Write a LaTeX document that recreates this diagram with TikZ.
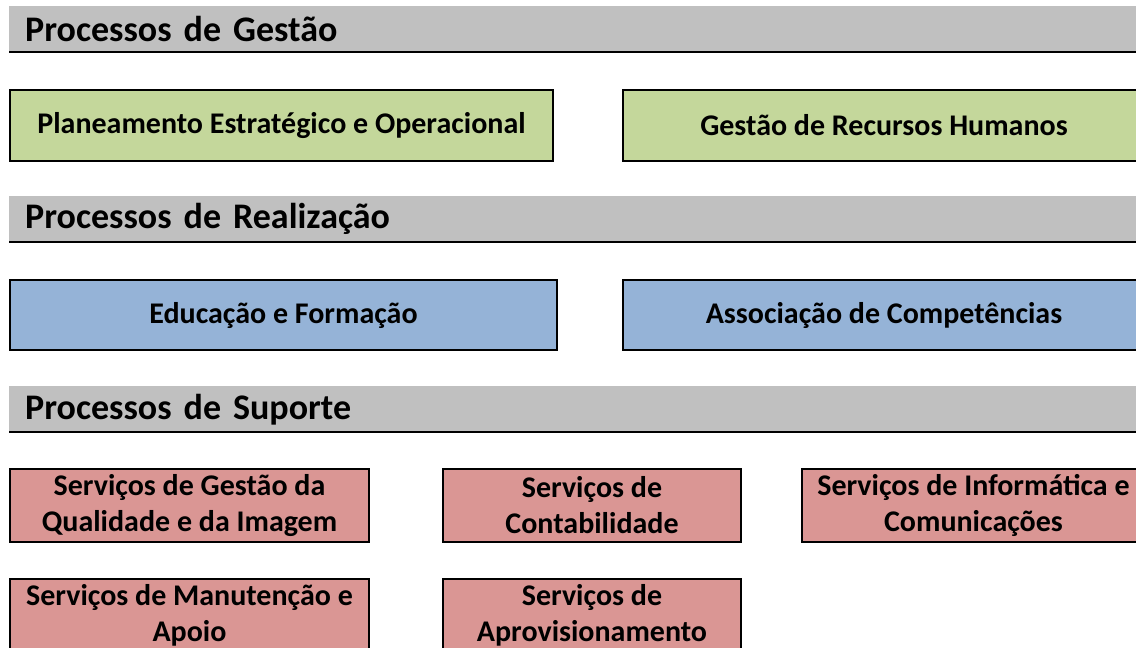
\documentclass[tikz,border=0pt]{standalone}
\usepackage{fontspec}
\setmainfont{Carlito}
\usetikzlibrary{positioning}
\definecolor{headgray}{HTML}{C0C0C0}
\definecolor{gestgreen}{HTML}{C4D79B}
\definecolor{realblue}{HTML}{95B3D7}
\definecolor{suppink}{HTML}{DA9694}
\tikzset{
head bar/.style={
fill=headgray,anchor=north west,minimum height=46pt,
text width=1110pt,inner xsep=16pt,inner ysep=0pt,align=left,
font=\bfseries\fontsize{36}{40}\selectfont
},
proc box/.style={
draw=black,line width=2pt,fill=#1,anchor=north west,inner sep=0pt,
align=center,font=\bfseries\fontsize{30}{36}\selectfont
},
}

\begin{document}
\begin{tikzpicture}[x=1pt,y=-1pt]
\useasboundingbox (0,0) rectangle (1136,648);
\clip (0,0) rectangle (1136,648);
\foreach \n/\y/\t in {hg/6/Processos de Gestão,hr/196/Processos de Realização,hs/386/Processos de Suporte} {
\node[head bar] (\n) at (9,\y) {\t};
\draw[line width=2pt] (\n.south west) -- (\n.south east);
}
\foreach \n/\x/\w/\t in {pe/9/543/Planeamento Estratégico e Operacional,rh/622/522/Gestão de Recursos Humanos}
\node[proc box=gestgreen,minimum width=\w pt,minimum height=71pt] (\n) at (\x,89) {\t};
\foreach \n/\x/\w/\t in {ef/9/547/Educação e Formação,ac/622/522/Associação de Competências}
\node[proc box=realblue,minimum width=\w pt,minimum height=70pt] (\n) at (\x,279) {\t};
\foreach \n/\x/\y/\w/\t in {
gq/9/468/359/Serviços de Gestão da\\Qualidade e da Imagem,
ct/442/468/298/Serviços de\\Contabilidade,
ic/801/468/343/Serviços de Informática e\\Comunicações,
ma/9/578/359/Serviços de Manutenção e\\Apoio,
ap/442/578/298/Serviços de\\Aprovisionamento}
\node[proc box=suppink,minimum width=\w pt,minimum height=73pt] (\n) at (\x,\y) {\t};
\end{tikzpicture}
\end{document}
